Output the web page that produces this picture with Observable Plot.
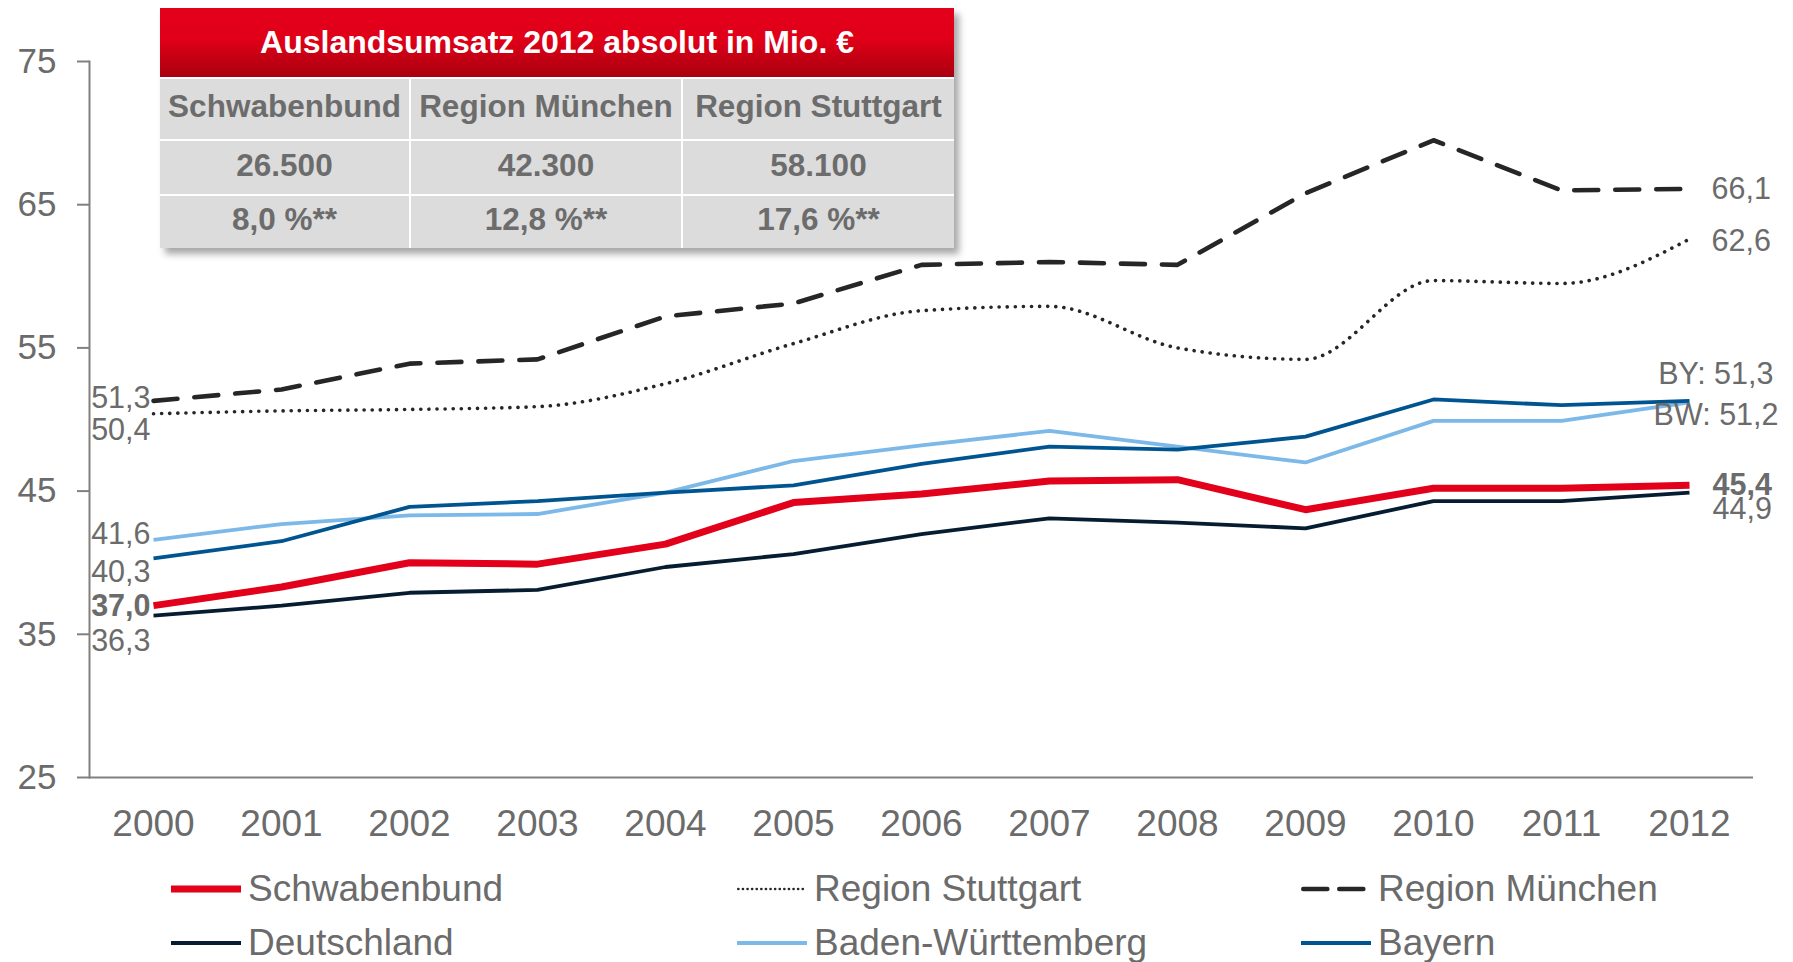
<!DOCTYPE html>
<html>
<head>
<meta charset="utf-8">
<script src="https://cdn.jsdelivr.net/npm/d3@7"></script>
<script src="https://cdn.jsdelivr.net/npm/@observablehq/plot@0.6"></script>
<style>
  body { margin: 0; background: #fff; font-family: "Liberation Sans", Arial, sans-serif; }
  #wrap { position: relative; width: 1793px; height: 962px; overflow: hidden; }
  #chart { position: absolute; left: 0; top: 0; }
  #tbl { position: absolute; left: 160px; top: 8px; width: 794px; background: #fff;
         box-shadow: 5px 6px 7px rgba(0,0,0,0.35); }
  #tbl .head { height: 69px; background: linear-gradient(#e4001b, #e00018 45%, #a9000f);
               color: #fff; font-weight: bold; font-size: 32px; display: flex;
               align-items: center; justify-content: center; }
  #tbl .grid { display: grid; grid-template-columns: 249px 270px 271px; grid-template-rows: 60px 53px 52px;
               gap: 2px; padding-top: 2px; background: #fff; }
  #tbl .cell { background: #dcdcdc; color: #6c6c6c; font-weight: bold; font-size: 31.5px;
               display: flex; align-items: center; justify-content: center; white-space: nowrap;
               padding-bottom: 5px; box-sizing: border-box; }
  .leg { position: absolute; display: flex; align-items: center; height: 50px; font-size: 37px; color: #6b6b6b; white-space: nowrap; }
  .leg svg { margin-right: 7px; }
</style>
</head>
<body>
<div id="wrap">
  <div id="chart"></div>
  <div id="tbl"></div>
  <div id="legend"></div>
</div>
<script>
// ---- data ----
const years = [2000, 2001, 2002, 2003, 2004, 2005, 2006, 2007, 2008, 2009, 2010, 2011, 2012];
const schwabenbund = [37.0, 38.3, 40.0, 39.9, 41.3, 44.2, 44.8, 45.7, 45.8, 43.7, 45.2, 45.2, 45.4];
const deutschland  = [36.3, 37.0, 37.9, 38.1, 39.7, 40.6, 42.0, 43.1, 42.8, 42.4, 44.3, 44.3, 44.9];
const stuttgart    = [50.4, 50.6, 50.7, 50.9, 52.5, 55.3, 57.6, 57.9, 55.0, 54.2, 59.7, 59.5, 62.6];
const muenchen     = [51.3, 52.1, 53.9, 54.2, 57.2, 58.1, 60.8, 61.0, 60.8, 65.8, 69.5, 66.0, 66.1];
const badenWuerttemberg = [41.6, 42.7, 43.3, 43.4, 44.9, 47.1, 48.2, 49.2, 48.1, 47.0, 49.9, 49.9, 51.2];
const bayern       = [40.3, 41.5, 43.9, 44.3, 44.9, 45.4, 46.9, 48.1, 47.9, 48.8, 51.4, 51.0, 51.3];
const yTicks = [25, 35, 45, 55, 65, 75];

const tableTitle = "Auslandsumsatz 2012 absolut in Mio. €";
const tableHeads = ["Schwabenbund", "Region München", "Region Stuttgart"];
const tableAbs = ["26.500", "42.300", "58.100"];
const tableShare = ["8,0 %**", "12,8 %**", "17,6 %**"];

// ---- styles ----
const fontFamily = '"Liberation Sans", Arial, sans-serif';
const textGray = "#6b6b6b";
const S = {
  sb: {name: "Schwabenbund", values: schwabenbund, stroke: "#e2001a", width: 7, dash: null, cap: "butt", curve: "linear"},
  de: {name: "Deutschland", values: deutschland, stroke: "#061c30", width: 3.8, dash: null, cap: "butt", curve: "linear"},
  st: {name: "Region Stuttgart", values: stuttgart, stroke: "#262626", width: 3.6, dash: "0.1 8", cap: "round", curve: "monotone-x"},
  mu: {name: "Region München", values: muenchen, stroke: "#262626", width: 4.6, dash: "24 17", cap: "round", curve: "linear"},
  bw: {name: "Baden-Württemberg", values: badenWuerttemberg, stroke: "#7cb9e8", width: 3.8, dash: null, cap: "butt", curve: "linear"},
  by: {name: "Bayern", values: bayern, stroke: "#005591", width: 3.8, dash: null, cap: "butt", curve: "linear"}
};
const drawOrder = ["bw", "by", "de", "st", "mu", "sb"];
const rows = vals => years.map((y, i) => ({year: y, value: vals[i]}));
const fmt = v => v.toFixed(1).replace(".", ",");

const lineMarks = drawOrder.map(k => Plot.lineY(rows(S[k].values), {
  x: "year", y: "value", stroke: S[k].stroke, strokeWidth: S[k].width,
  strokeDasharray: S[k].dash, strokeLinecap: S[k].cap, strokeLinejoin: "round", curve: S[k].curve
}));

// end labels: [series, index, prefix, anchor, dx, dy, bold]
const labelSpecs = [
  ["mu", 0, "", "end", -3, -3, false],
  ["st", 0, "", "end", -3, 16, false],
  ["bw", 0, "", "end", -3, -6, false],
  ["by", 0, "", "end", -3, 14, false],
  ["sb", 0, "", "end", -3, 1, true],
  ["de", 0, "", "end", -3, 26, false],
  ["mu", 12, "", "start", 22, 0, false],
  ["st", 12, "", "start", 22, 2, false],
  ["by", 12, "BY: ", "end", 84, -27, false],
  ["bw", 12, "BW: ", "end", 89, 13, false],
  ["sb", 12, "", "start", 23, 0, true],
  ["de", 12, "", "start", 23, 17, false]
];
const labelMarks = labelSpecs.map(([k, i, pre, anchor, dx, dy, bold]) =>
  Plot.text([{year: years[i], value: S[k].values[i]}], {
    x: "year", y: "value", text: d => pre + fmt(d.value), textAnchor: anchor,
    dx, dy, fontSize: 30.5, fontWeight: bold ? "bold" : "normal", fill: textGray
  }));

const chart = Plot.plot({
  width: 1793, height: 860,
  marginLeft: 89, marginRight: 40, marginTop: 61, marginBottom: 83,
  style: {fontFamily, color: textGray, background: "transparent", overflow: "visible"},
  x: {type: "point", domain: years, padding: 0.5},
  y: {domain: [25, 75]},
  marks: [
    Plot.axisY({ticks: yTicks, tickSize: 12, tickPadding: 21, fontSize: 35, stroke: "#808080", strokeWidth: 2, tickFormat: d => String(d), label: null}),
    Plot.axisX({tickSize: 0, tickPadding: 32, fontSize: 37, tickFormat: d => String(d), label: null}),
    Plot.ruleY([25], {stroke: "#808080", strokeWidth: 2}),
    Plot.frame({anchor: "left", stroke: "#808080", strokeWidth: 2}),
    ...lineMarks,
    ...labelMarks
  ]
});
document.getElementById("chart").appendChild(chart);

// ---- table ----
const tbl = document.getElementById("tbl");
tbl.innerHTML = `<div class="head">${tableTitle}</div><div class="grid">` +
  [...tableHeads, ...tableAbs, ...tableShare].map(t => `<div class="cell">${t}</div>`).join("") + `</div>`;

// ---- legend ----
const legendItems = [
  ["sb", 171, 889], ["st", 737, 889], ["mu", 1301, 889],
  ["de", 171, 943], ["bw", 737, 943], ["by", 1301, 943]
];
const legend = document.getElementById("legend");
legendItems.forEach(([k, x, y]) => {
  const s = S[k];
  const div = document.createElement("div");
  div.className = "leg";
  div.style.left = x + "px";
  div.style.top = (y - 25) + "px";
  const dash = k === "st" ? "0.1 4.5" : (k === "mu" ? "24 12" : "");
  const w = k === "st" ? 2.6 : s.width;
  const cap = s.cap;
  const x1 = cap === "round" ? w / 2 : 0, x2 = cap === "round" ? 70 - w / 2 : 70;
  div.innerHTML = `<svg width="70" height="14"><line x1="${x1}" x2="${x2}" y1="7" y2="7" stroke="${s.stroke}" stroke-width="${w}" stroke-linecap="${cap}" ${dash ? `stroke-dasharray="${dash}"` : ""}/></svg><span>${s.name}</span>`;
  legend.appendChild(div);
});
</script>
</body>
</html>
